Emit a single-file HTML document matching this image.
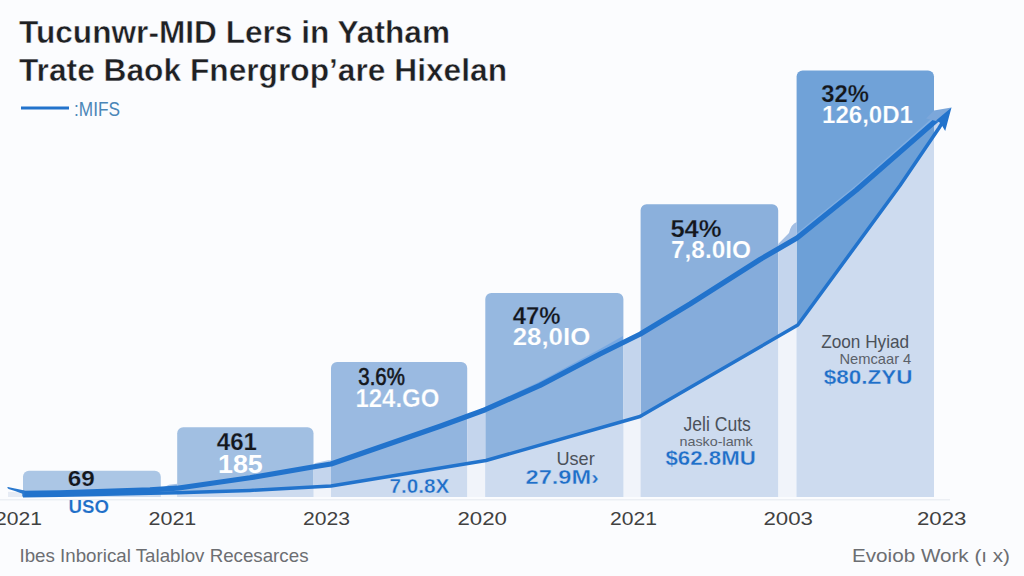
<!DOCTYPE html>
<html><head><meta charset="utf-8">
<style>
html,body{margin:0;padding:0;background:#fbfcfe;}
body{width:1024px;height:576px;overflow:hidden;font-family:"Liberation Sans",sans-serif;}
svg{display:block;position:absolute;left:0;top:0;}
text{font-family:"Liberation Sans",sans-serif;}
.t{font-size:31px;font-weight:bold;fill:#1e2023;stroke:#fbfcfe;stroke-width:0.45px;}
.k{font-weight:bold;fill:#14171b;}
.k2{fill:#14171b;stroke:#14171b;stroke-width:0.6px;}
.w{font-weight:bold;fill:#ffffff;}
.b{font-weight:bold;fill:#1f6fc8;}
.g{fill:#4b5159;}
.g2{fill:#5b6169;}
.ax{fill:#414141;font-size:19.2px;}
.ft{fill:#6c6e72;font-size:19px;}
</style></head><body>
<svg width="1024" height="576" viewBox="0 0 1024 576">
<defs>
  <clipPath id="bars">
    <path d="M23 497V476.7a6 6 0 0 1 6-6H154.8a6 6 0 0 1 6 6V497Z"/>
    <path d="M177.2 497V433.3a6 6 0 0 1 6-6H307.5a6 6 0 0 1 6 6V497Z"/>
    <path d="M331 497V368a6 6 0 0 1 6-6H461.2a6 6 0 0 1 6 6V497Z"/>
    <path d="M485.3 497V299a6 6 0 0 1 6-6H617.4a6 6 0 0 1 6 6V497Z"/>
    <path d="M640.6 497V210.3a6 6 0 0 1 6-6H772.2a6 6 0 0 1 6 6V497Z"/>
    <path d="M796.6 497V76.4a6 6 0 0 1 6-6H928a6 6 0 0 1 6 6V497Z"/>
  </clipPath>
  <clipPath id="gaps">
    <rect x="0" y="0" width="23" height="497"/>
    <rect x="160.8" y="0" width="16.399999999999977" height="497"/>
    <rect x="313.5" y="0" width="17.5" height="497"/>
    <rect x="467.2" y="0" width="18.100000000000023" height="497"/>
    <rect x="623.4" y="0" width="17.200000000000045" height="497"/>
    <rect x="778.2" y="0" width="18.399999999999977" height="497"/>
  </clipPath>
  <clipPath id="tail"><rect x="934" y="0" width="90" height="497"/></clipPath>
</defs>
<rect width="1024" height="576" fill="#fbfcfe"/>
<rect x="0" y="499" width="950" height="1.5" fill="#eceff4"/>
<path d="M23 497V476.7a6 6 0 0 1 6-6H154.8a6 6 0 0 1 6 6V497Z" fill="#abc6e5"/>
<path d="M177.2 497V433.3a6 6 0 0 1 6-6H307.5a6 6 0 0 1 6 6V497Z" fill="#a1bfe2"/>
<path d="M331 497V368a6 6 0 0 1 6-6H461.2a6 6 0 0 1 6 6V497Z" fill="#9abae1"/>
<path d="M485.3 497V299a6 6 0 0 1 6-6H617.4a6 6 0 0 1 6 6V497Z" fill="#96b8e0"/>
<path d="M640.6 497V210.3a6 6 0 0 1 6-6H772.2a6 6 0 0 1 6 6V497Z" fill="#8bb0dc"/>
<path d="M796.6 497V76.4a6 6 0 0 1 6-6H928a6 6 0 0 1 6 6V497Z" fill="#70a2d8"/>
<g clip-path="url(#bars)">
  <polygon points="23,495.8 60,495.3 150,493.2 177.8,492.8 250,490.4 331,486 486,460.5 640,416.5 760,347 797.8,325 900,185.5 939,128 951.5,108 951,497 23,497" fill="#cddbef"/>
  <polygon points="23,493.3 60,492.8 150,489.8 177,488.2 250,477.8 314,466.7 331,464 440,426.25 485.2,409.7 540,385.4 600,354 640.4,334 690,304 760,259.5 797,238 856.4,190 951.5,107.5 951.5,108 939,128 900,185.5 797.8,325 760,347 640,416.5 486,460.5 331,486 250,490.4 177.8,492.8 150,493.2 60,495.3 23,495.8" fill="#5c93d6" fill-opacity="0.12"/>
</g>
<g clip-path="url(#gaps)">
  <polygon points="23,495.8 60,495.3 150,493.2 177.8,492.8 250,490.4 331,486 486,460.5 640,416.5 760,347 797.8,325 900,185.5 939,128 951.5,108 951,497 23,497" fill="#f1f4fa"/>
  <polygon points="23,493.3 60,492.8 150,489.8 177,488.2 250,477.8 314,466.7 331,464 440,426.25 485.2,409.7 540,385.4 600,354 640.4,334 690,304 760,259.5 797,238 856.4,190 951.5,107.5 951.5,108 939,128 900,185.5 797.8,325 760,347 640,416.5 486,460.5 331,486 250,490.4 177.8,492.8 150,493.2 60,495.3 23,495.8" fill="#c4d5ed"/>
</g>
<g clip-path="url(#tail)">
  <polygon points="797,238 856.4,190 951.5,107.5 939,128 900,185.5 797.8,325" fill="#c4d5ed"/>
</g>
<polygon points="470,414 485.2,407 540,381.5 600,349 623,336 623,342.5 600,354 540,385.4 485.2,409.7 470,415.5" fill="#6ea3e2" fill-opacity="0.75"/>
<path d="M778.2 244 L789 233 Q791 224 796.8 222 V238 L778.2 249Z" fill="#a3bfe4"/>
<path d="M162 488 L169 484.8 L177.2 483.8 V489 L162 491Z" fill="#a9c4e6"/>
<path d="M314.5 463.2 L328 460.3 H331 V464.5 L314.5 467Z" fill="#b4cbe9"/>
<polygon points="797,233 856.4,185 934,116.5 934,122.5 856.4,190 797,238" fill="#8fb8e8" fill-opacity="0.55"/>
<polyline points="23,495.8 60,495.3 150,493.2 177.8,492.8 250,490.4 331,486 486,460.5 640,416.5 760,347 797.8,325 900,185.5 939,128 944,120" fill="none" stroke="#2273cc" stroke-width="3.5" stroke-linejoin="round"/>
<polyline points="23,493.3 60,492.8 150,489.8 177,488.2 250,477.8 314,466.7 331,464 440,426.25 485.2,409.7 540,385.4 600,354 640.4,334 690,304 760,259.5 797,238 856.4,190 944,113.5" fill="none" stroke="#2273cc" stroke-width="5.2" stroke-linejoin="round" stroke-linecap="round"/>
<path d="M8 491.8 L22.6 492.6 V497 H8Z" fill="#e6ebf4"/>
<path d="M7.3 487.3 Q8 486.8 9 487.2 L15 488.6 Q20 489.6 24.5 490.4 V496.8 H22.5 V493.8 Q16 491 8.6 488.9 Q7 488.2 7.3 487.3Z" fill="#2a79cf"/>
<polygon points="926,118.5 934,110.5 951.5,107.5 940,122" fill="#7ca7da"/>
<polygon points="951.5,107.5 945.2,131 940.5,123 936,120.5" fill="#2273cc"/>
<g opacity="0.999">
<text class="t" x="19" y="42.9" textLength="431" lengthAdjust="spacingAndGlyphs">Tucunwr-MID Lers in Yatham</text>
<text class="t" x="19" y="81" textLength="488" lengthAdjust="spacingAndGlyphs">Trate Baok Fnergrop’are Hixelan</text>
<rect x="21" y="106.5" width="48" height="3" fill="#2273cc"/>
<text x="74" y="115.6" font-size="20" fill="#4a86b8" textLength="46" lengthAdjust="spacingAndGlyphs">:MIFS</text>
<text class="k" x="67.7" y="486" font-size="22" stroke="#abc6e5" stroke-width="0.2" textLength="27.0" lengthAdjust="spacingAndGlyphs">69</text>
<text class="b" x="68.5" y="513.2" font-size="18.5" stroke="#fbfcfe" stroke-width="0.15" textLength="40.5" lengthAdjust="spacingAndGlyphs">USO</text>
<text class="k" x="216.8" y="449.9" font-size="23.5" stroke="#a1bfe2" stroke-width="0.25" textLength="40.2" lengthAdjust="spacingAndGlyphs">461</text>
<text class="w" x="218" y="473" font-size="26.5" textLength="44.8" lengthAdjust="spacingAndGlyphs">185</text>
<text class="k2" x="358.3" y="385.2" font-size="23.3" textLength="46.6" lengthAdjust="spacingAndGlyphs">3.6%</text>
<text class="w" x="355.4" y="407.2" font-size="25.4" stroke="#9abae1" stroke-width="0.25" textLength="84.0" lengthAdjust="spacingAndGlyphs">124.GO</text>
<text class="b" x="389.5" y="492.7" font-size="19.5" stroke="#cddbef" stroke-width="0.4" textLength="59.9" lengthAdjust="spacingAndGlyphs">7.0.8X</text>
<text class="k" x="512.7" y="323.7" font-size="23.7" stroke="#96b8e0" stroke-width="0.25" textLength="47.8" lengthAdjust="spacingAndGlyphs">47%</text>
<text class="w" x="512.7" y="344.8" font-size="24.5" stroke="#96b8e0" stroke-width="0.2" textLength="77.6" lengthAdjust="spacingAndGlyphs">28,0IO</text>
<text class="g" x="556.4" y="465.3" font-size="19" textLength="38.3" lengthAdjust="spacingAndGlyphs">User</text>
<text class="b" x="525.5" y="484" font-size="19.5" stroke="#cddbef" stroke-width="0.35" textLength="73.5" lengthAdjust="spacingAndGlyphs">27.9M›</text>
<text class="k" x="670.4" y="237" font-size="23.7" stroke="#8bb0dc" stroke-width="0.25" textLength="51.2" lengthAdjust="spacingAndGlyphs">54%</text>
<text class="w" x="671" y="258" font-size="24.8" stroke="#8bb0dc" stroke-width="0.2" textLength="80.0" lengthAdjust="spacingAndGlyphs">7,8.0IO</text>
<text class="g" x="683.5" y="431.1" font-size="19.4" textLength="67.3" lengthAdjust="spacingAndGlyphs">Jeli Cuts</text>
<text class="g2" x="679.5" y="445.7" font-size="13" textLength="73.2" lengthAdjust="spacingAndGlyphs">nasko-lamk</text>
<text class="b" x="665.5" y="465.2" font-size="19.8" stroke="#cddbef" stroke-width="0.3" textLength="90.2" lengthAdjust="spacingAndGlyphs">$62.8MU</text>
<text class="k" x="821.3" y="101.7" font-size="24.1" stroke="#70a2d8" stroke-width="0.25" textLength="47.7" lengthAdjust="spacingAndGlyphs">32%</text>
<text class="w" x="822" y="123" font-size="24.1" stroke="#70a2d8" stroke-width="0.2" textLength="91.0" lengthAdjust="spacingAndGlyphs">126,0D1</text>
<text class="g" x="821.2" y="348.1" font-size="18.6" textLength="88.0" lengthAdjust="spacingAndGlyphs">Zoon Hyiad</text>
<text class="g2" x="839.4" y="364" font-size="15" textLength="71.9" lengthAdjust="spacingAndGlyphs">Nemcaar 4</text>
<text class="b" x="823.8" y="384" font-size="20" stroke="#cddbef" stroke-width="0.3" textLength="88.7" lengthAdjust="spacingAndGlyphs">$80.ZYU</text>
<text class="ax" x="-5" y="525.2" textLength="47.0" lengthAdjust="spacingAndGlyphs">2021</text>
<text class="ax" x="148.5" y="525.2" textLength="47.8" lengthAdjust="spacingAndGlyphs">2021</text>
<text class="ax" x="303" y="525.2" textLength="47.0" lengthAdjust="spacingAndGlyphs">2023</text>
<text class="ax" x="457.5" y="525.2" textLength="49.5" lengthAdjust="spacingAndGlyphs">2020</text>
<text class="ax" x="610" y="525.2" textLength="47.0" lengthAdjust="spacingAndGlyphs">2021</text>
<text class="ax" x="763.5" y="525.2" textLength="49.5" lengthAdjust="spacingAndGlyphs">2003</text>
<text class="ax" x="917" y="525.2" textLength="49.5" lengthAdjust="spacingAndGlyphs">2023</text>
<text class="ft" x="19.5" y="561.5" textLength="289" lengthAdjust="spacingAndGlyphs">Ibes Inborical Talablov Recesarces</text>
<text class="ft" x="852" y="561.5" textLength="158" lengthAdjust="spacingAndGlyphs">Evoiob Work (ı x)</text>
</g>
</svg>
</body></html>
